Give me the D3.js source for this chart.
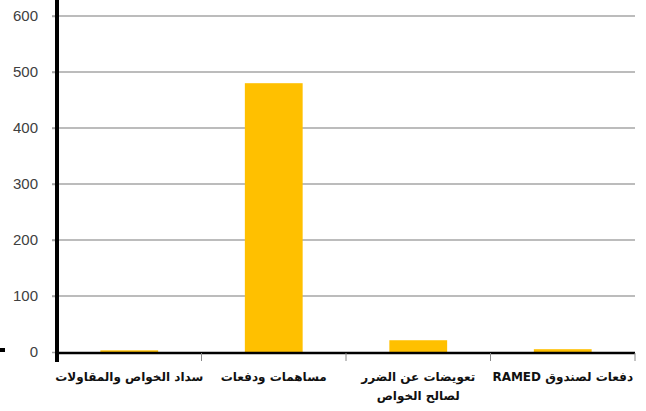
<!DOCTYPE html>
<html><head><meta charset="utf-8">
<script src="https://cdn.jsdelivr.net/npm/d3@7"></script>
<style>body{margin:0;background:#fff}svg{display:block}</style>
</head><body>
<svg id="c" width="646" height="411"></svg>
<script>
const categories = [
  ["سداد الخواص والمقاولات"],
  ["مساهمات ودفعات"],
  ["تعويضات عن الضرر", "لصالح الخواص"],
  ["دفعات لصندوق RAMED"]
];
const values = [3, 480, 21, 5];
const yTicks = [0, 100, 200, 300, 400, 500, 600];

(function () {
const svg = d3.select("#c");
const mL = 57, mR = 635, mT = 16, mB = 352;
const x = d3.scaleBand().domain(d3.range(categories.length)).range([mL, mR]).paddingInner(0.6).paddingOuter(0.3);
const xb = d3.scaleBand().domain(d3.range(categories.length)).range([mL, mR]);
const y = d3.scaleLinear().domain([0, 600]).range([mB, mT]);

svg.append("g").selectAll("line").data(yTicks.filter(d => d > 0)).join("line")
  .attr("x1", mL - 5).attr("x2", mR).attr("y1", d => y(d)).attr("y2", d => y(d))
  .attr("stroke", "#a6a6a6").attr("stroke-width", 1.5);

const yAxis = d3.axisLeft(y).tickValues(yTicks).tickSize(5).tickPadding(14);
const ya = svg.append("g").attr("transform", `translate(${mL},0)`).call(yAxis);
ya.select(".domain").remove();
ya.selectAll(".tick line").attr("stroke", "#a6a6a6").attr("stroke-width", 1.5);
ya.selectAll(".tick text").attr("font-family", "Liberation Sans, Arial, sans-serif").attr("font-size", 15).attr("fill", "#404040");

svg.append("g").selectAll("rect").data(values).join("rect")
  .attr("x", (d, i) => x(i)).attr("width", x.bandwidth())
  .attr("y", d => y(d)).attr("height", d => y(0) - y(d))
  .attr("fill", "#FFC000");

const xa = svg.append("g").attr("transform", `translate(0,${mB + 1})`);
xa.append("line").attr("x1", mL).attr("x2", mR).attr("y1", 0).attr("y2", 0).attr("stroke", "#000").attr("stroke-width", 2.5);
xa.selectAll("line.tk").data(d3.range(1, categories.length + 1)).join("line").attr("class", "tk")
  .attr("x1", i => xb(0) + i * xb.bandwidth()).attr("x2", i => xb(0) + i * xb.bandwidth())
  .attr("y1", 0).attr("y2", 8).attr("stroke", "#888").attr("stroke-width", 1);

svg.append("line").attr("x1", mL).attr("x2", mL).attr("y1", 0).attr("y2", mB + 10).attr("stroke", "#000").attr("stroke-width", 4);

const lab = svg.append("g").selectAll("text").data(categories).join("text")
  .attr("x", (d, i) => xb(i) + xb.bandwidth() / 2).attr("y", mB + 29)
  .attr("text-anchor", "middle").attr("direction", "rtl")
  .attr("font-family", "DejaVu Sans, sans-serif").attr("font-weight", "bold").attr("font-size", 12).attr("fill", "#111");
lab.selectAll("tspan").data(d => d).join("tspan")
  .attr("x", function() { return d3.select(this.parentNode).attr("x"); })
  .attr("dy", (d, i) => i === 0 ? 0 : 19).text(d => d);

svg.append("rect").attr("x", 0).attr("y", 348).attr("width", 5).attr("height", 4).attr("fill", "#000");
})();
</script>
</body></html>
